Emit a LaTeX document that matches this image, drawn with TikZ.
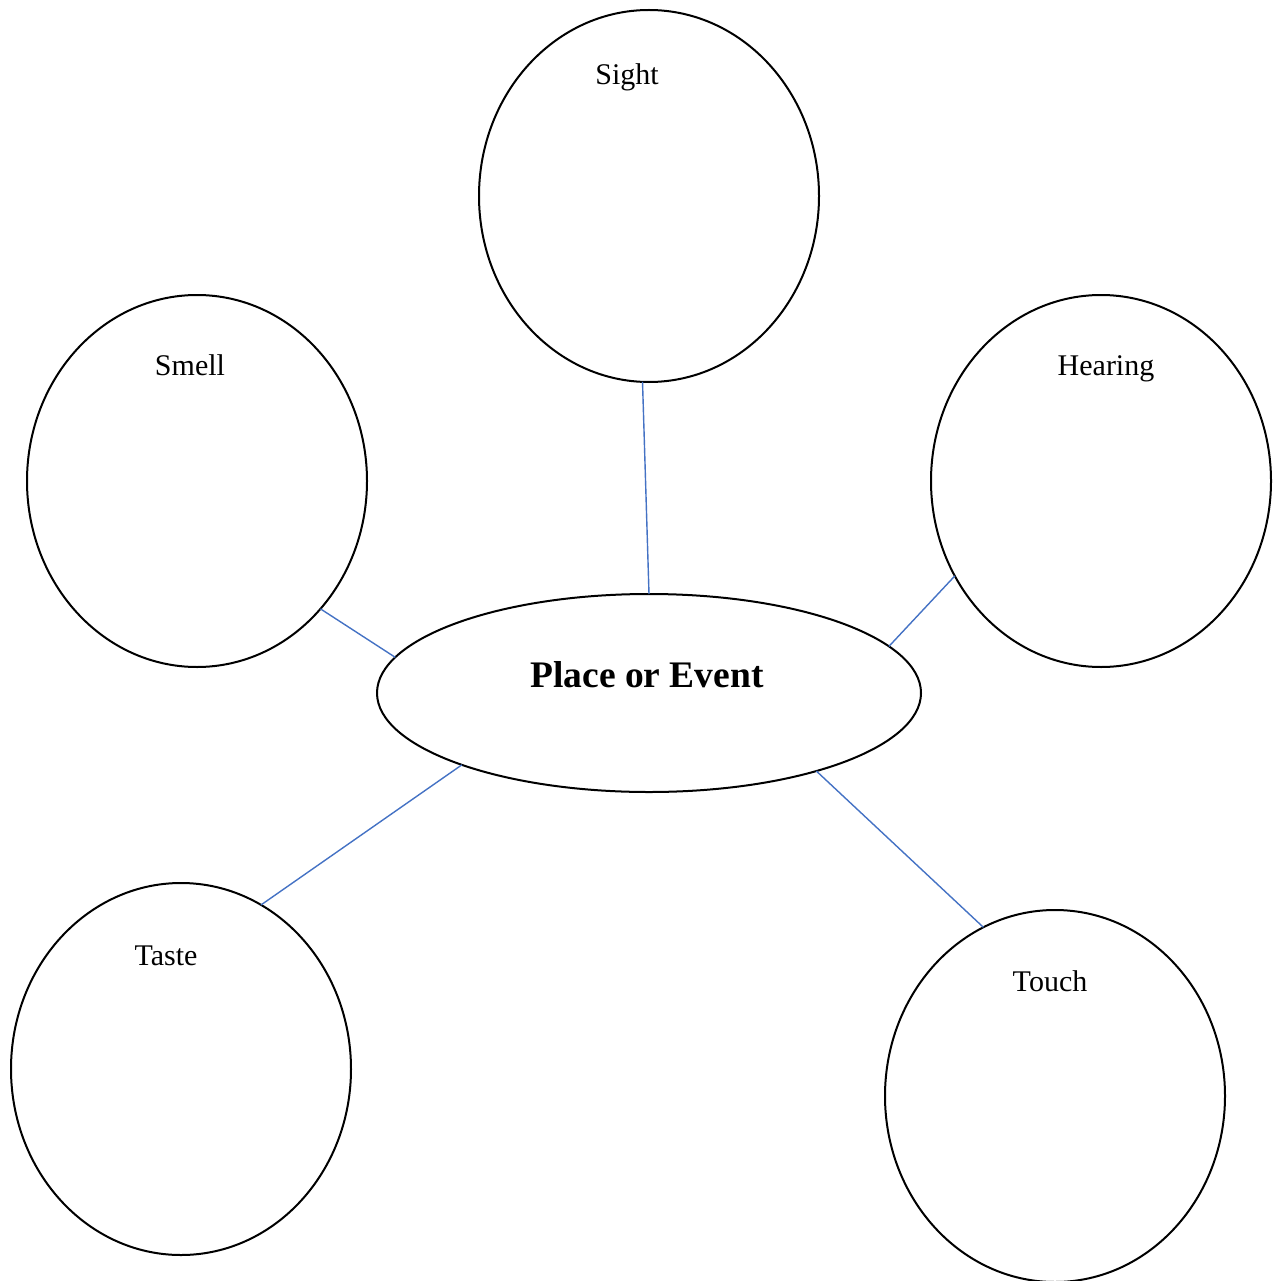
\documentclass[tikz,border=0pt]{standalone}
\usepackage{fontspec}
\setmainfont{Liberation Serif}
\usetikzlibrary{shapes.geometric}
\definecolor{linkblue}{HTML}{4472C4}
\begin{document}
\begin{tikzpicture}[x=1pt,y=-1pt,
  sense/.style={draw=black,line width=2pt,ellipse,inner sep=0pt,outer sep=0pt,minimum width=340pt,minimum height=372pt},
  hub/.style={draw=black,line width=2pt,ellipse,inner sep=0pt,outer sep=0pt,minimum width=544pt,minimum height=198pt},
  lbl/.style={anchor=base,inner sep=0pt,font=\fontsize{30}{34}\selectfont},
  link/.style={draw=linkblue,line width=1.4pt}]
\useasboundingbox (0,0) rectangle (1273,1281);
\node[sense] (sight) at (649,196) {};
\node[sense] (smell) at (197,481) {};
\node[sense] (hearing) at (1101,481) {};
\node[sense] (taste) at (181,1069) {};
\node[sense] (touch) at (1055,1096) {};
\node[hub] (hubnode) at (649,693) {};
\node[anchor=base,inner sep=0pt,font=\fontsize{37.5}{42}\selectfont\bfseries] (hubtxt) at (647,687) {Place or Event};
\node[lbl] (sighttxt) at (627,85) {Sight};
\node[lbl] (smelltxt) at (190,375) {Smell};
\node[lbl] (hearingtxt) at (1106,375) {Hearing};
\node[lbl] (tastetxt) at (166,965) {Taste};
\node[lbl] (touchtxt) at (1050,991) {Touch};
\draw[link] (sight.268) -- (hubnode.90);
\draw[link] (smell.-46.4) -- (hubnode.172.3);
\draw[link] (hearing.213.3) -- (hubnode.11.2);
\draw[link] (taste.64.6) -- (hubnode.201.3);
\draw[link] (touch.113.6) -- (hubnode.-25.2);
\end{tikzpicture}
\end{document}
